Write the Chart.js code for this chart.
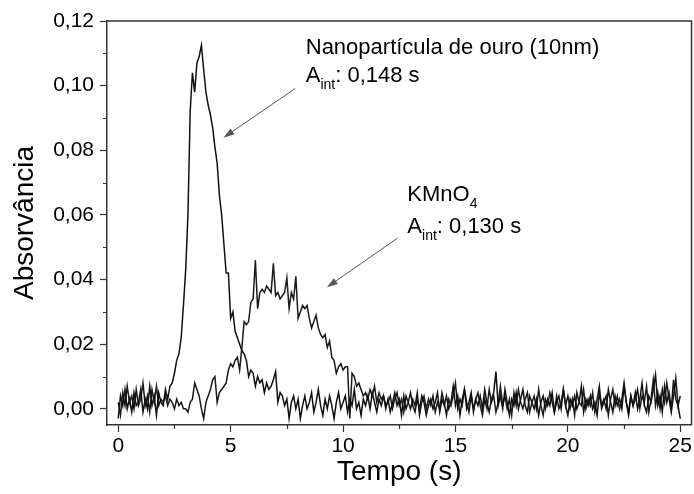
<!DOCTYPE html>
<html>
<head>
<meta charset="utf-8">
<script src="https://cdn.jsdelivr.net/npm/chart.js@4.4.0/dist/chart.umd.min.js"></script>
<style>
  html, body { margin: 0; padding: 0; background: #fff; }
  #wrap { width: 694px; height: 494px; }
</style>
</head>
<body>
<div id="wrap"><canvas id="myChart" width="694" height="494"></canvas></div>
<script>
'use strict';
// sampling of both traces: one reading every 0.1 s, from 0 to 25 s
let startTime = 0;
let timeStep = 0.1;

// Nanopartícula de ouro (10nm)
let goldAbs = [
  -0.003, 0.004, 0.001, 0.006, 0.000, 0.003, -0.001, 0.005, 0.001, 0.002,
  0.006, -0.001, 0.003, 0.000, 0.007, 0.001, 0.004, -0.002, 0.005, 0.002,
  0.001, 0.006, 0.003, 0.007, 0.008, 0.011, 0.015, 0.017, 0.022, 0.032,
  0.043, 0.060, 0.092, 0.104, 0.098, 0.107, 0.109, 0.1125, 0.105, 0.098,
  0.094, 0.091, 0.087, 0.081, 0.076, 0.066, 0.060, 0.051, 0.042, 0.042,
  0.028, 0.030, 0.024, 0.022, 0.020, 0.018, 0.017, 0.015, 0.010, 0.012,
  0.011, 0.007, 0.010, 0.008, 0.009, 0.005, 0.008, 0.006, 0.007, 0.009,
  0.0115, 0.002, 0.005, 0.004, 0.001, 0.003, -0.003, 0.002, 0.004, 0.000,
  0.003, -0.003, 0.001, 0.004, 0.000, 0.002, 0.005, -0.001, 0.002, 0.006,
  0.001, -0.002, 0.003, 0.000, 0.004, 0.001, -0.003, 0.002, 0.005, 0.000,
  0.002, 0.004, -0.001, 0.003, 0.001, 0.006, 0.000, 0.002, -0.002, 0.003,
  0.001, 0.004, 0.000, 0.005, 0.002, -0.001, 0.003, 0.001, 0.004, 0.000,
  0.003, -0.001, 0.002, 0.005, 0.001, 0.003, -0.002, 0.004, 0.000, 0.002,
  0.005, 0.001, -0.001, 0.003, 0.000, 0.004, 0.002, -0.002, 0.001, 0.003,
  0.000, 0.002, 0.005, -0.001, 0.003, 0.001, 0.004, 0.000, 0.002, 0.007,
  0.001, 0.004, -0.002, 0.003, 0.006, 0.000, 0.002, 0.005, -0.001, 0.003,
  0.001, 0.004, 0.000, 0.006, 0.002, -0.001, 0.003, 0.005, 0.0115, 0.001,
  0.004, 0.000, 0.006, 0.002, -0.002, 0.003, 0.001, 0.005, 0.000, 0.003,
  0.006, 0.001, -0.001, 0.004, 0.002, 0.000, 0.003, -0.002, 0.002, 0.004,
  0.000, 0.003, 0.001, 0.005, -0.001, 0.002, 0.004, 0.000, 0.006, 0.001,
  -0.002, 0.003, 0.001, 0.004, 0.000, 0.002, 0.007, -0.001, 0.003, 0.001,
  0.004, 0.000, 0.002, -0.002, 0.005, 0.001, 0.003, 0.000, 0.006, 0.002,
  -0.001, 0.004, 0.001, 0.003, 0.000, 0.007, 0.002, -0.002, 0.004, 0.001,
  0.005, 0.000, 0.003, 0.008, 0.001, -0.001, 0.004, 0.002, 0.006, 0.0105,
  0.001, 0.004, -0.001, 0.007, 0.002, 0.005, 0.000, 0.009, 0.003, 0.001,
  -0.003
];

// KMnO4
let kmno4Abs = [
  0.002, -0.002, 0.005, 0.001, 0.007, 0.002, 0.004, 0.000, 0.006, 0.001,
  0.003, 0.008, 0.001, 0.004, -0.001, 0.006, 0.002, 0.007, 0.001, 0.003,
  0.002, 0.004, 0.001, 0.003, 0.002, 0.000, 0.003, 0.001, 0.002, 0.000,
  0.000, -0.001, 0.002, 0.003, 0.008, 0.006, 0.004, 0.000, -0.003, 0.002,
  0.004, 0.006, 0.009, 0.010, 0.002, 0.005, 0.006, 0.007, 0.008, 0.012,
  0.014, 0.013, 0.015, 0.016, 0.012, 0.019, 0.027, 0.026, 0.027, 0.033,
  0.034, 0.046, 0.031, 0.036, 0.037, 0.036, 0.038, 0.037, 0.036, 0.045,
  0.035, 0.036, 0.034, 0.035, 0.036, 0.0405, 0.031, 0.036, 0.034, 0.041,
  0.028, 0.030, 0.032, 0.031, 0.032, 0.028, 0.025, 0.027, 0.029, 0.025,
  0.023, 0.022, 0.023, 0.019, 0.021, 0.016, 0.015, 0.011, 0.013, 0.014,
  0.012, 0.013, 0.013, -0.003, 0.011, 0.010, 0.007, 0.008, 0.006, 0.004,
  0.005, 0.003, 0.006, 0.004, 0.007, 0.002, 0.005, 0.003, 0.004, 0.001,
  0.002, 0.004, 0.000, 0.003, 0.005, 0.001, 0.003, -0.001, 0.004, 0.002,
  0.000, 0.003, 0.001, 0.005, -0.002, 0.002, 0.004, 0.000, 0.003, 0.001,
  0.004, -0.001, 0.002, 0.000, 0.005, 0.002, -0.002, 0.003, 0.001, 0.004,
  0.008, 0.000, 0.003, 0.001, 0.006, 0.002, -0.001, 0.004, 0.000, 0.003,
  0.005, 0.001, -0.002, 0.003, 0.000, 0.006, 0.002, 0.004, -0.001, 0.002,
  0.007, 0.001, 0.004, 0.000, 0.003, -0.002, 0.005, 0.001, 0.006, 0.002,
  0.000, 0.003, 0.005, -0.001, 0.002, 0.004, 0.000, 0.006, 0.001, -0.002,
  0.003, 0.001, 0.005, 0.002, -0.001, 0.004, 0.000, 0.002, 0.006, 0.001,
  0.004, 0.000, 0.003, -0.002, 0.005, 0.002, 0.001, 0.006, 0.000, 0.003,
  0.001, 0.005, -0.001, 0.003, 0.007, 0.000, 0.002, 0.004, -0.002, 0.003,
  0.006, 0.001, 0.004, 0.000, 0.003, 0.008, 0.002, -0.001, 0.004, 0.001,
  0.003, 0.006, 0.000, 0.004, 0.002, 0.007, -0.001, 0.003, 0.009, 0.001,
  0.005, 0.000, 0.006, 0.002, 0.008, 0.003, -0.001, 0.004, 0.0095, 0.001,
  0.004
];

let xTickValues = [0, 5, 10, 15, 20, 25];
let xTickLabels = ['0', '5', '10', '15', '20', '25'];
let xMinorTicks = [2.5, 7.5, 12.5, 17.5, 22.5];
let yTickValues = [0, 0.02, 0.04, 0.06, 0.08, 0.10, 0.12];
let yTickLabels = ['0,00', '0,02', '0,04', '0,06', '0,08', '0,10', '0,12'];
let yMinorTicks = [0.01, 0.03, 0.05, 0.07, 0.09, 0.11];

let fontFamily = "'Liberation Sans', Arial, sans-serif";
let inkColor = '#000';
let axisColor = '#333';

function toPoints(values) {
    let pts = [];
    for (let i = 0; i < values.length; i++) {
        pts.push({ x: startTime + i * timeStep, y: values[i] });
    }
    return pts;
}

// draws "A" + subscript parts etc.
function drawRich(ctx, parts, x, y) {
    let cx = x;
    for (let p of parts) {
        ctx.font = (p.sub ? '14px ' : '22px ') + fontFamily;
        ctx.fillText(p.t, cx, p.sub ? y + 7 : y);
        cx += ctx.measureText(p.t).width;
    }
}

function drawArrow(ctx, x1, y1, x2, y2) {
    let ang = Math.atan2(y2 - y1, x2 - x1);
    ctx.beginPath();
    ctx.moveTo(x1, y1);
    ctx.lineTo(x2 - 8 * Math.cos(ang), y2 - 8 * Math.sin(ang));
    ctx.stroke();
    ctx.beginPath();
    ctx.moveTo(x2, y2);
    ctx.lineTo(x2 - 11 * Math.cos(ang) + 3.5 * Math.sin(ang), y2 - 11 * Math.sin(ang) - 3.5 * Math.cos(ang));
    ctx.lineTo(x2 - 11 * Math.cos(ang) - 3.5 * Math.sin(ang), y2 - 11 * Math.sin(ang) + 3.5 * Math.cos(ang));
    ctx.closePath();
    ctx.fill();
}

let frameAndNotes = {
    id: 'frameAndNotes',
    afterDraw(chart) {
        let ctx = chart.ctx;
        let a = chart.chartArea;
        let x = chart.scales.x;
        let y = chart.scales.y;
        ctx.save();
        // top and right sides of the box
        ctx.strokeStyle = axisColor;
        ctx.lineWidth = 1.5;
        ctx.beginPath();
        ctx.moveTo(a.left, a.top);
        ctx.lineTo(a.right, a.top);
        ctx.lineTo(a.right, a.bottom);
        ctx.stroke();
        // minor ticks
        ctx.lineWidth = 1.2;
        ctx.beginPath();
        xMinorTicks.forEach(v => {
            let px = Math.round(x.getPixelForValue(v)) + 0.5;
            ctx.moveTo(px, a.bottom);
            ctx.lineTo(px, a.bottom + 4);
        });
        yMinorTicks.forEach(v => {
            let py = Math.round(y.getPixelForValue(v)) + 0.5;
            ctx.moveTo(a.left, py);
            ctx.lineTo(a.left - 4, py);
        });
        ctx.stroke();

        // annotations
        ctx.fillStyle = inkColor;
        ctx.textAlign = 'left';
        ctx.textBaseline = 'alphabetic';
        let n1x = x.getPixelForValue(8.34);
        drawRich(ctx, [{ t: 'Nanopartícula de ouro (10nm)' }], n1x, y.getPixelForValue(0.1097));
        drawRich(ctx, [{ t: 'A' }, { t: 'int', sub: true }, { t: ': 0,148 s' }], n1x, y.getPixelForValue(0.1011));
        let n2x = x.getPixelForValue(12.86);
        drawRich(ctx, [{ t: 'KMnO' }, { t: '4', sub: true }], n2x, y.getPixelForValue(0.0642));
        drawRich(ctx, [{ t: 'A' }, { t: 'int', sub: true }, { t: ': 0,130 s' }], n2x, y.getPixelForValue(0.0545));

        ctx.strokeStyle = '#555';
        ctx.fillStyle = '#555';
        ctx.lineWidth = 1;
        drawArrow(ctx, x.getPixelForValue(7.87), y.getPixelForValue(0.0991), x.getPixelForValue(4.68), y.getPixelForValue(0.0839));
        drawArrow(ctx, x.getPixelForValue(12.42), y.getPixelForValue(0.0528), x.getPixelForValue(9.28), y.getPixelForValue(0.0376));
        ctx.restore();
    }
};

let tickFont = { family: fontFamily, size: 21 };
let titleFont = { family: fontFamily, size: 28 };

let ctxEl = document.getElementById('myChart').getContext('2d');
let myChart = new Chart(ctxEl, {
    type: 'line',
    data: {
        datasets: [{
            label: 'Nanopartícula de ouro (10nm)',
            data: toPoints(goldAbs),
            borderColor: '#111',
            borderWidth: 1.5,
            pointRadius: 0,
            tension: 0,
            fill: false
        }, {
            label: 'KMnO4',
            data: toPoints(kmno4Abs),
            borderColor: '#1a1a1a',
            borderWidth: 1.5,
            pointRadius: 0,
            tension: 0,
            fill: false
        }]
    },
    options: {
        responsive: false,
        animation: false,
        layout: { padding: { left: 0, top: 21, right: 2, bottom: 0 } },
        plugins: {
            legend: { display: false },
            tooltip: { enabled: false }
        },
        scales: {
            x: {
                type: 'linear',
                min: -0.5,
                max: 25.5,
                afterBuildTicks: s => { s.ticks = xTickValues.map(v => ({ value: v })); },
                afterFit: s => { s.height = 69; },
                ticks: {
                    callback: (v, i) => xTickLabels[i],
                    font: tickFont,
                    color: inkColor,
                    padding: 2,
                    maxRotation: 0,
                    autoSkip: false
                },
                grid: { drawOnChartArea: false, tickLength: 7, color: axisColor, tickWidth: 1.2 },
                border: { color: axisColor, width: 1.5 },
                title: { display: true, text: 'Tempo (s)', font: titleFont, color: inkColor, padding: { top: 0, bottom: 5 } }
            },
            y: {
                type: 'linear',
                min: -0.005,
                max: 0.12,
                afterBuildTicks: s => { s.ticks = yTickValues.map(v => ({ value: v })); },
                afterFit: s => { s.width = 107; },
                ticks: {
                    callback: (v, i) => yTickLabels[i],
                    font: tickFont,
                    color: inkColor,
                    padding: 6,
                    autoSkip: false
                },
                grid: { drawOnChartArea: false, tickLength: 7, color: axisColor, tickWidth: 1.2 },
                border: { color: axisColor, width: 1.5 },
                title: { display: true, text: 'Absorvância', font: titleFont, color: inkColor, padding: { top: 8, bottom: 0 } }
            }
        }
    },
    plugins: [frameAndNotes]
});
</script>
</body>
</html>
